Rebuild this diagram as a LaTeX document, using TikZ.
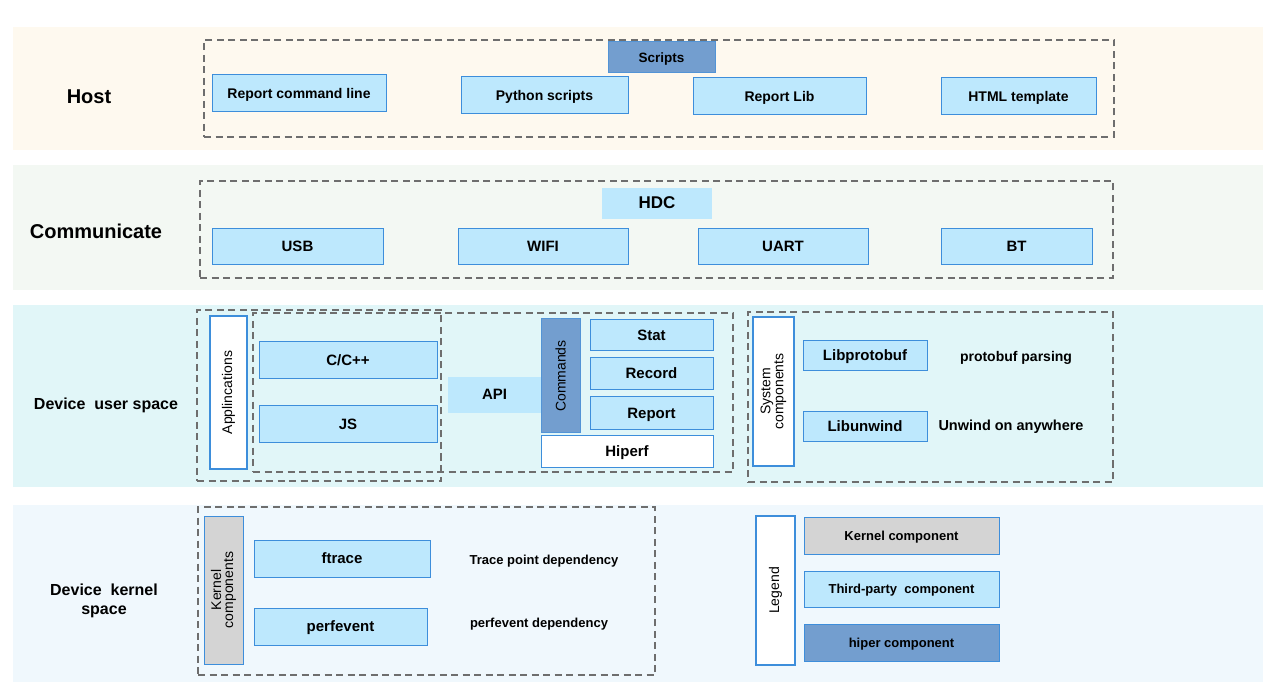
\documentclass[tikz,border=0pt]{standalone}
\usepackage{fontspec}
\setmainfont{Liberation Sans}
\definecolor{bblue}{HTML}{3D8EDB}
\definecolor{lblue}{HTML}{BDE8FD}
\definecolor{dblue}{HTML}{739ECF}
\definecolor{kgray}{HTML}{D4D4D4}
\definecolor{dgray}{HTML}{6E6E6E}
\definecolor{bandA}{HTML}{FEF9EF}
\definecolor{bandB}{HTML}{F3F8F3}
\definecolor{bandC}{HTML}{E1F6F8}
\definecolor{bandD}{HTML}{F0F8FD}
\newcommand\fs[1]{\fontsize{#1}{#1}\selectfont}
\begin{document}
\begin{tikzpicture}[x=1pt,y=-1pt,
  every node/.style={inner sep=0pt, outer sep=0pt},
  band/.style={fill=#1, anchor=north west},
  dbox/.style={draw=dgray, dash pattern=on 7pt off 4.5pt, line width=1.8pt, anchor=north west},
  tc/.style={text height=0.94em, text depth=0.02em},
  lb/.style={draw=bblue, fill=lblue, line width=1pt, font=\bfseries\fs{15}, anchor=north west, tc},
  hb/.style={lb, font=\bfseries\fs{14}},
  db/.style={draw=bblue!60!dblue, fill=dblue, line width=1pt},
  wb/.style={draw=bblue, fill=white, line width=1.2pt},
  gb/.style={draw=bblue, fill=kgray, line width=1pt},
  pl/.style={fill=lblue, anchor=north west, tc},
  vlab/.style={rotate=90, font=\fs{14}, align=center},
  lab/.style={font=\bfseries\fs{16}, align=center},
  note/.style={font=\bfseries\fs{14}}
]
\useasboundingbox (0,0) rectangle (1280,700);
\fill[white] (0,0) rectangle (1280,700);
% bands
\node[band=bandA, minimum width=1250pt, minimum height=123pt] (b1) at (13,27) {};
\node[band=bandB, minimum width=1250pt, minimum height=125pt] (b2) at (13,165) {};
\node[band=bandC, minimum width=1250pt, minimum height=182pt] (b3) at (13,305) {};
\node[band=bandD, minimum width=1250pt, minimum height=177pt] (b4) at (13,505) {};

% ---------------- Host
\node[dbox, minimum width=910pt, minimum height=97pt] (hostbox) at (204,40) {};
\node[db, tc, anchor=north west, minimum width=107pt, minimum height=31pt, font=\bfseries\fs{13.5}] (scripts) at (608,42) {Scripts};
\node[hb, minimum width=174pt, minimum height=37pt] (rcl) at (212,75) {Report command line};
\node[hb, minimum width=167pt, minimum height=37pt] (py) at (461,77) {Python scripts};
\node[hb, minimum width=173pt, minimum height=37pt] (rlib) at (693,78) {Report Lib};
\node[hb, minimum width=155pt, minimum height=37pt] (html) at (941,78) {HTML template};
\node[lab, font=\bfseries\fs{20}] (host) at (89,97) {Host};

% ---------------- Communicate
\node[dbox, minimum width=913pt, minimum height=97pt] (commbox) at (200,181) {};
\node[pl, minimum width=110pt, minimum height=31pt, font=\bfseries\fs{17}] (hdc) at (602,188) {HDC};
\node[lb, minimum width=171pt, minimum height=36pt] (usb) at (212,229) {USB};
\node[lb, minimum width=170pt, minimum height=36pt] (wifi) at (458,229) {WIFI};
\node[lb, minimum width=170pt, minimum height=36pt] (uart) at (698,229) {UART};
\node[lb, minimum width=151pt, minimum height=36pt] (bt) at (941,229) {BT};
\node[lab, font=\bfseries\fs{20}] (comm) at (96,231) {Communicate};

% ---------------- Device user space
\node[dbox, minimum width=244pt, minimum height=171pt] (appbox) at (197,310) {};
\node[dbox, minimum width=480pt, minimum height=159pt] (apibox) at (253,313) {};
\node[wb, vlab, minimum width=153pt, minimum height=37pt] (apps) at (228.5,392.5) {Applincations};
\node[lb, minimum width=178pt, minimum height=37pt] (cpp) at (259,342) {C/C++};
\node[lb, minimum width=178pt, minimum height=37pt] (js) at (259,406) {JS};
\node[pl, minimum width=93pt, minimum height=36pt, font=\bfseries\fs{15}] (api) at (448,377) {API};
\node[db, vlab, minimum width=114pt, minimum height=39pt] (cmds) at (560.5,376) {Commands};
\node[lb, minimum width=123pt, minimum height=31pt] (stat) at (590,320) {Stat};
\node[lb, minimum width=123pt, minimum height=32pt] (record) at (590,358) {Record};
\node[lb, minimum width=123pt, minimum height=33pt] (report) at (590,397) {Report};
\node[lb, fill=white, minimum width=172pt, minimum height=31pt] (hiperf) at (541,436) {Hiperf};
\node[dbox, minimum width=365pt, minimum height=170pt] (sysbox) at (748,312) {};
\node[wb, vlab, minimum width=149pt, minimum height=41pt, font=\fs{14}\linespread{0.85}\selectfont] (sysc) at (773.5,391.5) {System\\components};
\node[lb, minimum width=124pt, minimum height=30pt] (protobuf) at (803,341) {Libprotobuf};
\node[lb, minimum width=124pt, minimum height=30pt] (unwind) at (803,412) {Libunwind};
\node[note] (pbp) at (1016,358) {protobuf parsing};
\node[note, font=\bfseries\fs{14.5}] (uoa) at (1011,427) {Unwind on anywhere};
\node[lab] (dus) at (106,405) {Device~~user space};

% ---------------- Device kernel space
\node[dbox, minimum width=457pt, minimum height=168pt] (kbox) at (198,507) {};
\node[gb, vlab, minimum width=148pt, minimum height=39pt, font=\fs{14}\linespread{0.85}\selectfont] (kcomp) at (223.5,590) {Kernel\\components};
\node[lb, minimum width=176pt, minimum height=37pt] (ftrace) at (254,540) {ftrace};
\node[lb, minimum width=173pt, minimum height=37pt] (perf) at (254,608) {perfevent};
\node[note, font=\bfseries\fs{13}] (tpd) at (544,561) {Trace point dependency};
\node[note, font=\bfseries\fs{13}] (ped) at (539,624) {perfevent dependency};
\node[lab, font=\bfseries\fs{16}\linespread{1.2}\selectfont] (dks) at (104,601) {Device~~kernel\\space};
\node[wb, vlab, minimum width=149pt, minimum height=39pt] (legend) at (775.5,590.5) {Legend};
\node[gb, tc, anchor=north west, minimum width=195pt, minimum height=37pt, font=\bfseries\fs{13}] (lk) at (804,517) {Kernel component};
\node[lb, minimum width=195pt, minimum height=36pt, font=\bfseries\fs{13}] (lt) at (804,571) {Third-party~ component};
\node[db, tc, draw=bblue, anchor=north west, minimum width=195pt, minimum height=37pt, font=\bfseries\fs{13}] (lh) at (804,624) {hiper component};
\end{tikzpicture}
\end{document}
